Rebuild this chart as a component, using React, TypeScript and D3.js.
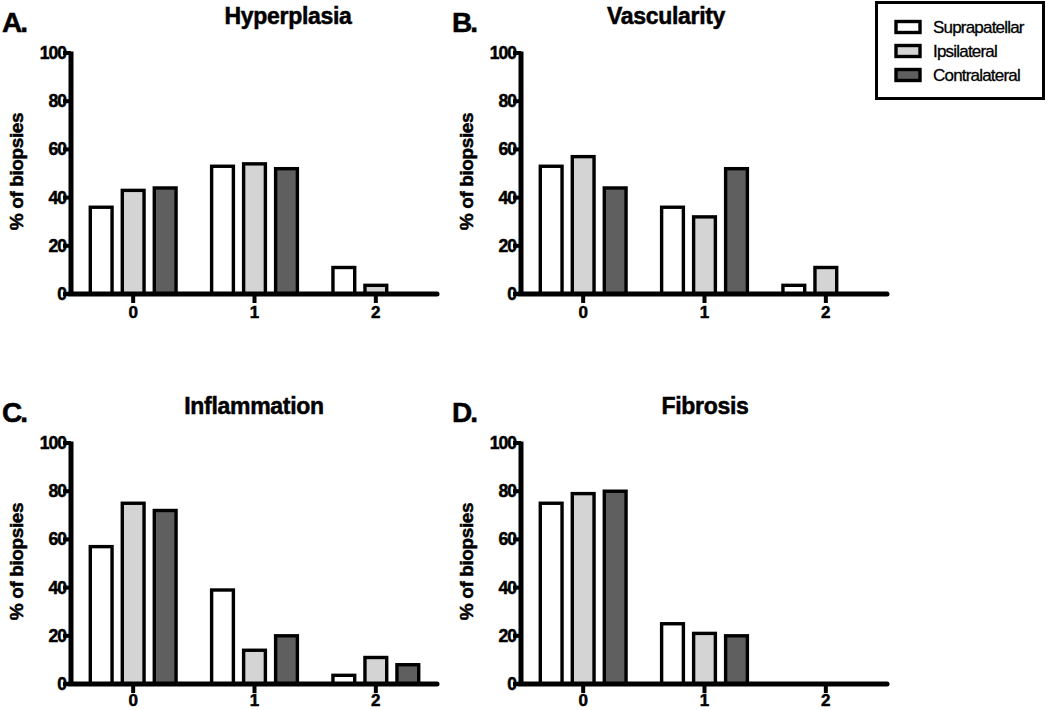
import * as d3 from 'd3';
import React from 'react';

// data (% of biopsies per score)
const categories = ['0', '1', '2'];
const seriesNames = ['Suprapatellar', 'Ipsilateral', 'Contralateral'];
const seriesColors = ['#ffffff', '#d4d4d4', '#5f5f5f'];
const yTicks = [0, 20, 40, 60, 80, 100];

const panelTitles = ['Hyperplasia', 'Vascularity', 'Inflammation', 'Fibrosis'];
const panelLetters = ['A.', 'B.', 'C.', 'D.'];

// values[category][series]
const hyperplasia = [[36, 43, 44], [53, 54, 52], [11, 3.6, 0]];
const vascularity = [[53, 57, 44], [36, 32, 52], [3.6, 11, 0]];
const inflammation = [[57, 75, 72], [39, 14, 20], [3.6, 11, 8]];
const fibrosis = [[75, 79, 80], [25, 21, 20], [0, 0, 0]];
const panelValues = [hyperplasia, vascularity, inflammation, fibrosis];

// layout
const panelX = [0, 450, 0, 450];
const panelY = [0, 0, 390, 390];
const titleX = [288, 216, 254, 255];
const font = "'Liberation Sans', Arial, sans-serif";

const axisLeft = 71;
const axisRight = 437;
const plotTop = 53;
const plotBottom = 294;

const bold = { fontWeight: 'bold' as const, fontFamily: font, stroke: '#000', strokeWidth: 0.5 };

function Panel({ index }: { index: number }) {
  const values = panelValues[index];

  const x = d3.scaleBand<string>().domain(categories).range([72.5, 436.5]).padding(0);
  const inner = d3
    .scaleBand<string>()
    .domain(seriesNames)
    .range([-48, 48])
    .paddingInner(0.32)
    .paddingOuter(0.16);
  const y = d3.scaleLinear().domain([0, 100]).range([plotBottom, plotTop]);

  return (
    <g transform={`translate(${panelX[index]},${panelY[index]})`}>
      <text x={2} y={32} fontSize={28} letterSpacing={-2} {...bold}>
        {panelLetters[index]}
      </text>
      <text x={titleX[index]} y={24} fontSize={23} textAnchor="middle" letterSpacing={-0.3} {...bold}>
        {panelTitles[index]}
      </text>
      <text
        transform={`translate(23,${(plotTop + plotBottom) / 2 - 2}) rotate(-90)`}
        fontSize={19}
        textAnchor="middle"
        letterSpacing={-0.4}
        {...bold}
      >
        % of biopsies
      </text>

      {values.map((row, ci) =>
        row.map((v, si) =>
          v > 0 ? (
            <rect
              key={`${ci}-${si}`}
              x={x(categories[ci])! + x.bandwidth() / 2 + inner(seriesNames[si])!}
              y={y(v)}
              width={inner.bandwidth()}
              height={plotBottom - y(v)}
              fill={seriesColors[si]}
              stroke="#000"
              strokeWidth={3.4}
            />
          ) : null
        )
      )}

      {/* y axis */}
      <line x1={axisLeft} x2={axisLeft} y1={plotTop - 1.5} y2={plotBottom} stroke="#000" strokeWidth={5} />
      {yTicks.map((t) => (
        <g key={t}>
          <line x1={axisLeft - 8} x2={axisLeft} y1={y(t)} y2={y(t)} stroke="#000" strokeWidth={4} />
          <text x={axisLeft - 5} y={y(t) + 6} textAnchor="end" fontSize={17.5} letterSpacing={-1} {...bold}>
            {t}
          </text>
        </g>
      ))}

      {/* x axis */}
      <line
        x1={axisLeft - 2.5}
        x2={axisRight}
        y1={plotBottom}
        y2={plotBottom}
        stroke="#000"
        strokeWidth={5}
        strokeLinecap="round"
      />
      {categories.map((c) => {
        const cx = x(c)! + x.bandwidth() / 2;
        return (
          <g key={c}>
            <line x1={cx} x2={cx} y1={plotBottom} y2={plotBottom + 9} stroke="#000" strokeWidth={4} />
            <text x={cx} y={index < 2 ? 318 : 316} textAnchor="middle" fontSize={17} {...bold}>
              {c}
            </text>
          </g>
        );
      })}
    </g>
  );
}

function Legend() {
  return (
    <g>
      <rect x={876.5} y={2.5} width={167} height={96} fill="#fff" stroke="#000" strokeWidth={3} />
      {seriesNames.map((s, i) => (
        <g key={s} transform={`translate(0,${27 + i * 24})`}>
          <rect x={896} y={-5.5} width={24} height={11} fill={seriesColors[i]} stroke="#000" strokeWidth={3.4} />
          <text x={933} y={6} fontSize={17} fontFamily={font} letterSpacing={-0.8} stroke="#000" strokeWidth={0.3}>
            {s}
          </text>
        </g>
      ))}
    </g>
  );
}

export default function App() {
  return (
    <svg width={1050} height={710} style={{ position: 'absolute', left: 0, top: 0, background: '#fff' }}>
      {panelTitles.map((_, i) => (
        <Panel key={i} index={i} />
      ))}
      <Legend />
    </svg>
  );
}
